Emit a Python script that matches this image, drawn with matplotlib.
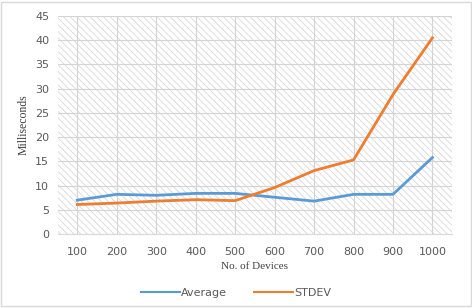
import numpy as np
import matplotlib.pyplot as plt
from matplotlib.patches import Rectangle

# data
devices = ['100', '200', '300', '400', '500', '600', '700', '800', '900', '1000']
average = [7.0, 8.2, 8.0, 8.4, 8.4, 7.6, 6.8, 8.2, 8.2, 15.8]
stdev = [6.1, 6.4, 6.8, 7.1, 6.9, 9.6, 13.1, 15.3, 28.8, 40.5]

plt.rcParams['hatch.linewidth'] = 0.6

fig = plt.figure(figsize=(4.72, 3.08), dpi=100)
ax = fig.add_axes([0.122, 0.240, 0.836, 0.708])

x = np.arange(len(devices))
ax.set_xlim(-0.5, len(devices) - 0.5)
ax.set_ylim(0, 45)

# patterned plot background (Excel-like pattern fill)
ax.add_patch(Rectangle((0, 0), 1, 1, transform=ax.transAxes, facecolor='white',
                       hatch='\\\\\\\\\\', edgecolor='#d8d8d8', linewidth=0, zorder=0))
ax.set_yticks(np.arange(0, 46, 5))
ax.grid(True, color='#d4d4d4', linewidth=0.8, zorder=1)
ax.set_axisbelow(True)

ax.plot(x, average, color='#5b9bd5', linewidth=2.0, label='Average', zorder=3)
ax.plot(x, stdev, color='#ed7d31', linewidth=2.0, label='STDEV', zorder=3)

ax.set_xticks(x)
ax.set_xticklabels(devices)
ax.tick_params(length=0, labelsize=8, labelcolor='#595959', pad=9)
ax.tick_params(axis='y', pad=6)
for s in ax.spines.values():
    s.set_visible(False)
ax.spines['bottom'].set_visible(True)
ax.spines['bottom'].set_color('#d9d9d9')

ax.set_xlabel('No. of Devices', fontfamily='Liberation Serif', fontsize=8,
              color='#404040', labelpad=4)
ax.set_ylabel('Milliseconds', fontfamily='Liberation Serif', fontsize=8.5,
              color='#404040', labelpad=4)

leg = fig.legend(loc='lower center', bbox_to_anchor=(0.5, 0.0), ncol=2, frameon=False,
                 fontsize=8, labelcolor='#595959', handlelength=3.5, columnspacing=2.5,
                 handletextpad=0.1)
for h in leg.get_lines():
    h.set_linewidth(1.5)

# light frame around the whole chart
fig.patches.append(Rectangle((0.003, 0.005), 0.994, 0.99, transform=fig.transFigure,
                             fill=False, edgecolor='#d9d9d9', linewidth=1.0))

fig.savefig('out.png', dpi=100)
